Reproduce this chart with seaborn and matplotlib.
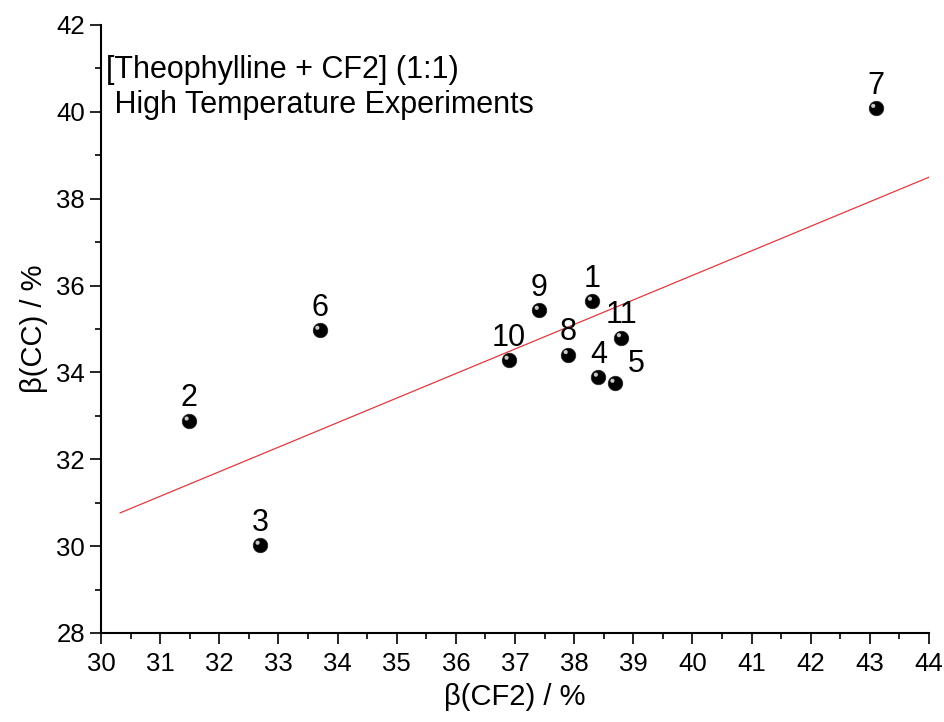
import numpy as np
import pandas as pd
import matplotlib
matplotlib.use("Agg")
import matplotlib.pyplot as plt
import matplotlib.transforms as mtransforms
from matplotlib.ticker import MultipleLocator
import seaborn as sns

# ---- data ----
labels = ["1", "2", "3", "4", "5", "6", "7", "8", "9", "10", "11"]
beta_cf2 = [38.31, 31.49, 32.69, 38.41, 38.69, 33.70, 43.10, 37.90, 37.41, 36.90, 38.80]
beta_cc = [35.64, 32.88, 30.02, 33.89, 33.75, 34.97, 40.08, 34.41, 35.43, 34.28, 34.80]
fit_x_range = [30.32, 44.0]

df = pd.DataFrame({"x": beta_cf2, "y": beta_cc, "label": labels})

sns.set_theme(style="ticks")
plt.rcParams["font.family"] = ["Liberation Sans", "DejaVu Sans"]
plt.rcParams["text.color"] = "black"
plt.rcParams["axes.labelcolor"] = "black"
plt.rcParams["xtick.color"] = "black"
plt.rcParams["ytick.color"] = "black"

fig = plt.figure(figsize=(9.45, 7.22), dpi=100)
ax = fig.add_axes([0.1069, 0.1233, 0.8761, 0.8421])

# linear fit line
slope, intercept = np.polyfit(df["x"], df["y"], 1)
fx = np.array(fit_x_range)
fit_df = pd.DataFrame({"x": fx, "y": slope * fx + intercept})
sns.lineplot(data=fit_df, x="x", y="y", ax=ax, color="#e0393e", linewidth=0.9, zorder=2)

# sphere-like markers
sns.scatterplot(data=df, x="x", y="y", ax=ax, color="black", s=110,
                edgecolor="#222222", linewidth=0.5, zorder=3)
hl = mtransforms.offset_copy(ax.transData, fig=fig, x=-1.8, y=1.8, units="points")
ax.scatter(df["x"], df["y"], s=9, color="#c8c8c8", edgecolors="none", transform=hl, zorder=4)

# point labels
for _, r in df.iterrows():
    if r["label"] == "5":
        off = (15.5, 8)
    else:
        off = (0, 10.5)
    ax.annotate(r["label"], (r["x"], r["y"]), xytext=off, textcoords="offset points",
                ha="center", va="baseline", fontsize=22, color="black")

ax.text(0.006, 0.95, "[Theophylline + CF2] (1:1)\n High Temperature Experiments",
        transform=ax.transAxes, ha="left", va="top", fontsize=22, linespacing=1.22)

ax.set_xlim(30, 44)
ax.set_ylim(28, 42)
ax.xaxis.set_major_locator(MultipleLocator(1))
ax.xaxis.set_minor_locator(MultipleLocator(0.5))
ax.yaxis.set_major_locator(MultipleLocator(2))
ax.yaxis.set_minor_locator(MultipleLocator(1))

for s in ["top", "right"]:
    ax.spines[s].set_visible(False)
for s in ["left", "bottom"]:
    ax.spines[s].set_linewidth(1.5)
    ax.spines[s].set_color("black")

ax.tick_params(which="major", direction="out", length=8, width=1.2, labelsize=18.5,
               colors="black")
ax.tick_params(which="minor", direction="out", length=4.2, width=1.2, colors="black")
ax.tick_params(axis="x", which="major", pad=6)
ax.tick_params(axis="y", which="major", pad=3.5)

ax.set_xlabel("β(CF2) / %", fontsize=21, labelpad=5)
ax.set_ylabel("β(CC) / %", fontsize=21, labelpad=6)

fig.savefig("out.png", dpi=100, facecolor="white")
